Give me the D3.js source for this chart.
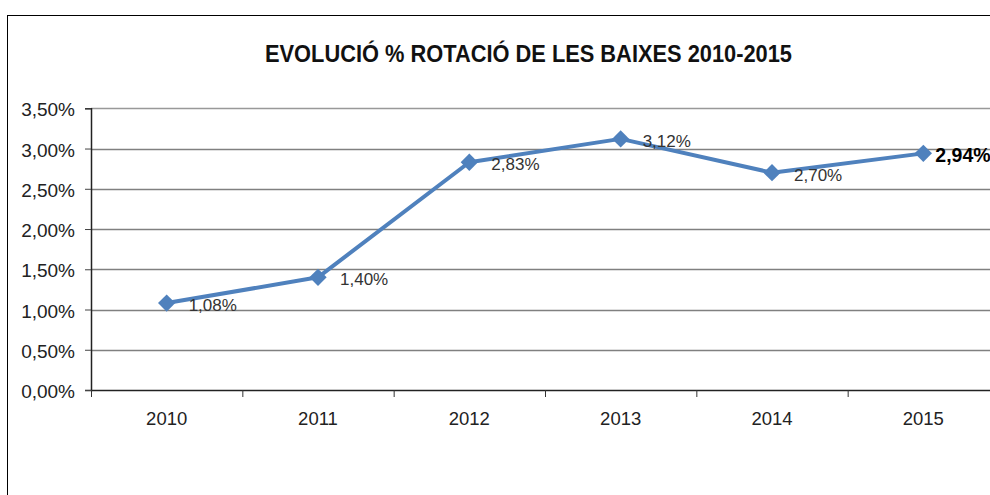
<!DOCTYPE html>
<html>
  <head>
    <meta charset="UTF-8" />
    <style>
      body { margin: 0; background: #fff; }
      svg { display: block; font-family: "Liberation Sans", Arial, sans-serif; }
    </style>
  </head>
  <body>
    <svg></svg>
    <script src="https://d3js.org/d3.v7.min.js"></script>
    <script>
      let width = 990,
        height = 495;

      // chart data
      const years = ["2010", "2011", "2012", "2013", "2014", "2015"];
      const values = [1.08, 1.40, 2.83, 3.12, 2.70, 2.94];
      const yTicks = [0, 0.5, 1, 1.5, 2, 2.5, 3, 3.5];
      const title = "EVOLUCIÓ % ROTACIÓ DE LES BAIXES 2010-2015";

      const fmt = (v) => d3.format(".2f")(v).replace(".", ",") + "%";

      let svg = d3.select("svg").attr("width", width).attr("height", height);

      // outer chart border (runs off the right and bottom edges)
      svg
        .append("rect")
        .attr("x", 7.5)
        .attr("y", 15.5)
        .attr("width", 1100)
        .attr("height", 600)
        .attr("fill", "none")
        .attr("stroke", "#000")
        .attr("stroke-width", 1);

      svg
        .append("text")
        .attr("x", 265)
        .attr("y", 61.5)
        .attr("font-size", 24)
        .attr("font-weight", "bold")
        .attr("fill", "#111")
        .attr("textLength", 527)
        .attr("lengthAdjust", "spacingAndGlyphs")
        .text(title);

      let x = d3.scaleBand().domain(years).range([91, 999]).padding(0);
      let y = d3.scaleLinear().domain([0, 3.5]).range([390, 108.3]);

      // gridlines
      svg
        .append("g")
        .selectAll("line")
        .data(yTicks.filter((d) => d > 0))
        .join("line")
        .attr("x1", 91)
        .attr("x2", width)
        .attr("y1", (d) => Math.round(y(d)) + 0.5)
        .attr("y2", (d) => Math.round(y(d)) + 0.5)
        .attr("stroke", (d) => (d === 3.5 ? "#999" : "#808080"))
        .attr("stroke-width", 1.5);

      // y axis
      let yAxis = svg
        .append("g")
        .attr("transform", "translate(91,0)")
        .call(d3.axisLeft(y).tickValues(yTicks).tickFormat(fmt).tickSize(6).tickPadding(10));
      yAxis.select(".domain").attr("stroke", "#222").attr("stroke-width", 1.5);
      yAxis.selectAll(".tick line").attr("stroke", "#444");
      yAxis
        .selectAll(".tick text")
        .attr("font-size", 19)
        .attr("font-family", "'Liberation Sans', Arial, sans-serif")
        .attr("fill", "#222")
        .attr("dy", "0.4em");

      // x axis
      let xAxis = svg
        .append("g")
        .attr("transform", "translate(0,390)")
        .call(d3.axisBottom(x).tickSize(0).tickPadding(22));
      xAxis.select(".domain").attr("stroke", "#222").attr("stroke-width", 1.5);
      xAxis
        .selectAll(".tick text")
        .attr("font-size", 18.5)
        .attr("font-family", "'Liberation Sans', Arial, sans-serif")
        .attr("fill", "#222");

      // category boundary ticks
      svg
        .append("g")
        .selectAll("line")
        .data(years)
        .join("line")
        .attr("x1", (d) => x(d) + 0.5)
        .attr("x2", (d) => x(d) + 0.5)
        .attr("y1", 390)
        .attr("y2", 397)
        .attr("stroke", "#333")
        .attr("stroke-width", 1);

      let cx = (d, i) => x(years[i]) + x.bandwidth() / 2;

      // series line
      svg
        .append("path")
        .datum(values)
        .attr("fill", "none")
        .attr("stroke", "#4F81BD")
        .attr("stroke-width", 4)
        .attr("stroke-linejoin", "round")
        .attr("d", d3.line().x(cx).y((d) => y(d)));

      // diamond markers
      svg
        .append("g")
        .selectAll("path")
        .data(values)
        .join("path")
        .attr("d", d3.symbol(d3.symbolSquare, 150)())
        .attr("transform", (d, i) => `translate(${cx(d, i)},${y(d)}) rotate(45)`)
        .attr("fill", "#4F81BD");

      // data labels
      svg
        .append("g")
        .selectAll("text")
        .data(values)
        .join("text")
        .attr("x", (d, i) => cx(d, i) + (i === values.length - 1 ? 12 : 22))
        .attr("y", (d) => y(d) + 2)
        .attr("dy", "0.36em")
        .attr("font-size", (d, i) => (i === values.length - 1 ? 19.5 : 17))
        .attr("font-weight", (d, i) => (i === values.length - 1 ? "bold" : "normal"))
        .attr("fill", (d, i) => (i === values.length - 1 ? "#000" : "#333"))
        .text(fmt);
    </script>
  </body>
</html>
